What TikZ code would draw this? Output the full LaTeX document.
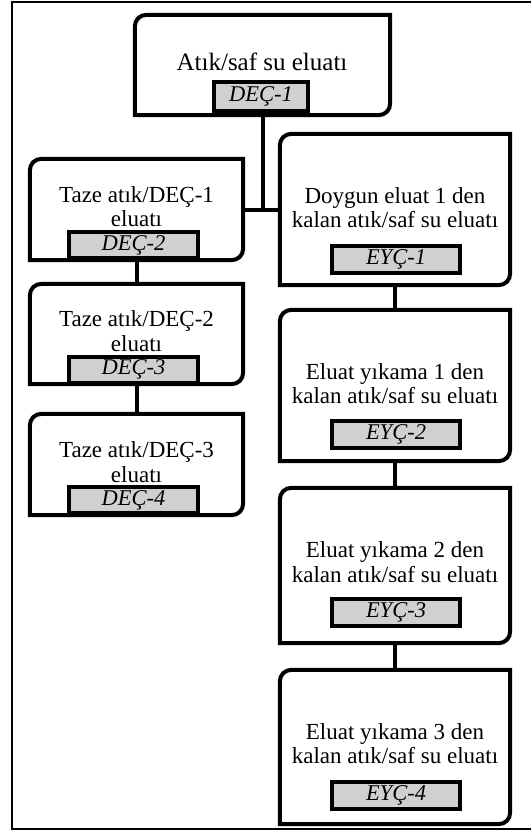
\documentclass[tikz,border=0pt]{standalone}
\usepackage{fontspec}
\setmainfont{Liberation Serif}
\definecolor{labelgray}{HTML}{D0D0D0}
\tikzset{
  bx/.style={line width=4pt, line join=miter},
  boxn/.style={draw=none, inner sep=0pt, rectangle},
  lbl/.style={draw, line width=4pt, fill=labelgray, inner sep=0pt, font=\fontsize{22.5}{24}\selectfont\itshape},
  llbl/.style={lbl, minimum width=129pt, minimum height=26pt},
  rlbl/.style={lbl, minimum width=128pt, minimum height=27pt},
  txt/.style={align=center, inner sep=0pt, font=\fontsize{23}{24.5}\selectfont},
  conn/.style={line width=4pt},
}
\newcommand\roundbox[1]{\draw[bx] (#1.south west) -- ([yshift=-12pt]#1.north west) .. controls ([yshift=-5pt]#1.north west) and ([xshift=5pt]#1.north west) .. ([xshift=12pt]#1.north west) -- (#1.north east) -- ([yshift=12pt]#1.south east) .. controls ([yshift=5pt]#1.south east) and ([xshift=-5pt]#1.south east) .. ([xshift=-12pt]#1.south east) -- cycle;}
\begin{document}
\begin{tikzpicture}[x=1pt,y=-1pt]
\useasboundingbox (0,0) rectangle (530,832);
\fill[white] (0,0) rectangle (530,832);
\draw[line width=1.5pt] (536,2) -- (12,2) -- (12,829) -- (536,829);
% box frames
\node[boxn, minimum width=255pt, minimum height=100pt] (A) at (262.5,65) {};
\node[boxn, minimum width=213pt, minimum height=101pt] (B1) at (136.5,209.5) {};
\node[boxn, minimum width=213pt, minimum height=100pt] (B2) at (136.5,334) {};
\node[boxn, minimum width=213pt, minimum height=101pt] (B3) at (136.5,464.5) {};
\node[boxn, minimum width=230pt, minimum height=151pt] (R1) at (395,209.5) {};
\node[boxn, minimum width=230pt, minimum height=151pt] (R2) at (395,385.5) {};
\node[boxn, minimum width=230pt, minimum height=155pt] (R3) at (395,565.5) {};
\node[boxn, minimum width=230pt, minimum height=154pt] (R4) at (395,747) {};
% connectors
\draw[conn] (A.south) -- (A.south |- B1.east);
\draw[conn] (B1.east) -- (R1.west);
\draw[conn] (B1.south) -- (B2.north);
\draw[conn] (B2.south) -- (B3.north);
\draw[conn] (R1.south) -- (R2.north);
\draw[conn] (R2.south) -- (R3.north);
\draw[conn] (R3.south) -- (R4.north);
\foreach \n in {A,B1,B2,B3,R1,R2,R3,R4} {\roundbox{\n}}
% texts
\node[txt, font=\fontsize{25}{27}\selectfont] (At) at (262,62) {Atık/saf su eluatı};
\node[txt] (B1t) at (136.5,206.5) {Taze atık/DEÇ-1\\eluatı};
\node[txt] (B2t) at (136.5,331) {Taze atık/DEÇ-2\\eluatı};
\node[txt] (B3t) at (136.5,462) {Taze atık/DEÇ-3\\eluatı};
\node[txt] (R1t) at (395,207.5) {Doygun eluat 1 den\\kalan atık/saf su eluatı};
\node[txt] (R2t) at (395,383.5) {Eluat yıkama 1 den\\kalan atık/saf su eluatı};
\node[txt] (R3t) at (395,562) {Eluat yıkama 2 den\\kalan atık/saf su eluatı};
\node[txt] (R4t) at (395,743.5) {Eluat yıkama 3 den\\kalan atık/saf su eluatı};
% labels
\node[lbl, minimum width=94pt, minimum height=29pt] (Al) at (261,96.5) {DEÇ-1};
\node[llbl] (B1l) at (133.5,245) {DEÇ-2};
\node[llbl] (B2l) at (133.5,369.5) {DEÇ-3};
\node[llbl] (B3l) at (133.5,500) {DEÇ-4};
\node[rlbl] (R1l) at (396,259.5) {EYÇ-1};
\node[rlbl] (R2l) at (396,434.5) {EYÇ-2};
\node[rlbl] (R3l) at (396,612.5) {EYÇ-3};
\node[rlbl] (R4l) at (396,795) {EYÇ-4};
\end{tikzpicture}
\end{document}
